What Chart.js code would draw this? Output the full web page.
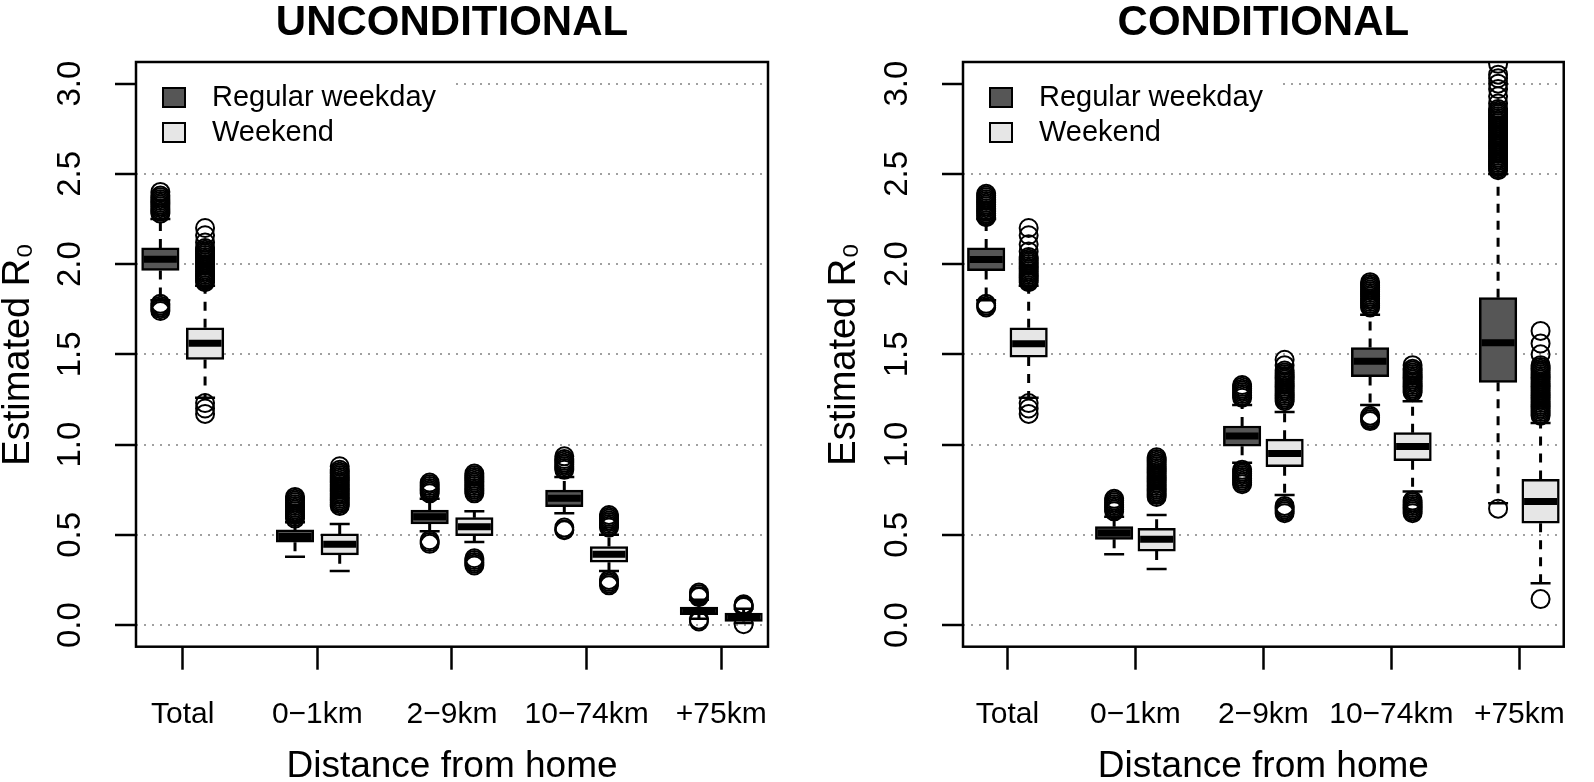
<!DOCTYPE html>
<html lang="en">
<head>
<meta charset="UTF-8">
<title>Estimated R0 by distance from home</title>
<script src="https://cdn.jsdelivr.net/npm/chart.js"></script>
<style>
  html, body { margin: 0; padding: 0; background: #fff; }
  body { width: 1594px; height: 782px; position: relative; overflow: hidden; }
  .panel { position: absolute; top: 0; width: 797px; height: 782px; }
  canvas { display: block; }
</style>
</head>
<body>
<div class="panel" style="left:0"><canvas id="uncChart" width="797" height="782"></canvas></div>
<div class="panel" style="left:797px"><canvas id="condChart" width="797" height="782"></canvas></div>

<script>
const categories = ['Total', '0\u22121km', '2\u22129km', '10\u221274km', '+75km'];
const groups = ['Regular weekday', 'Weekend'];
const yTicks = [0, 0.5, 1, 1.5, 2, 2.5, 3];
const yTickLabels = ['0.0', '0.5', '1.0', '1.5', '2.0', '2.5', '3.0'];

// UNCONDITIONAL - regular weekday
const uncWeekdayLo  = [1.80, 0.379, 0.52, 0.62, 0.035];
const uncWeekdayQ1  = [1.965, 0.459, 0.560, 0.656, 0.057];
const uncWeekdayMed = [2.027, 0.490, 0.600, 0.702, 0.079];
const uncWeekdayQ3  = [2.090, 0.527, 0.637, 0.748, 0.100];
const uncWeekdayHi  = [2.25, 0.57, 0.70, 0.82, 0.14];
const uncWeekdayOut = [
  [1.74, 1.75, 1.76, 1.77, 1.78, 2.28, 2.29, 2.30, 2.31, 2.32, 2.33, 2.34, 2.35, 2.36, 2.37, 2.38, 2.40],
  [0.59, 0.60, 0.61, 0.62, 0.63, 0.64, 0.65, 0.66, 0.67, 0.68, 0.69, 0.70, 0.71],
  [0.45, 0.46, 0.47, 0.73, 0.74, 0.75, 0.76, 0.77, 0.78, 0.79],
  [0.525, 0.53, 0.54, 0.86, 0.87, 0.88, 0.89, 0.90, 0.91, 0.92, 0.935],
  [0.02, 0.03, 0.155, 0.16, 0.17, 0.18]
];

// UNCONDITIONAL - weekend
const uncWeekendLo  = [1.26, 0.30, 0.46, 0.30, 0.012];
const uncWeekendQ1  = [1.472, 0.389, 0.495, 0.348, 0.020];
const uncWeekendMed = [1.562, 0.448, 0.545, 0.392, 0.042];
const uncWeekendQ3  = [1.647, 0.505, 0.595, 0.435, 0.066];
const uncWeekendHi  = [1.88, 0.56, 0.63, 0.50, 0.09];
const uncWeekendOut = [
  [1.17, 1.20, 1.23, 1.90, 1.91, 1.92, 1.93, 1.94, 1.95, 1.96, 1.97, 1.98, 1.99, 2.00, 2.01, 2.02, 2.03, 2.04, 2.05, 2.06, 2.07, 2.08, 2.09, 2.12, 2.16, 2.20],
  [0.66, 0.67, 0.68, 0.69, 0.70, 0.71, 0.72, 0.73, 0.74, 0.75, 0.76, 0.77, 0.78, 0.79, 0.80, 0.81, 0.82, 0.83, 0.84, 0.85, 0.86, 0.88],
  [0.33, 0.34, 0.35, 0.36, 0.37, 0.73, 0.74, 0.75, 0.76, 0.77, 0.78, 0.79, 0.80, 0.81, 0.82, 0.83, 0.84],
  [0.22, 0.23, 0.24, 0.25, 0.54, 0.55, 0.56, 0.57, 0.58, 0.59, 0.60, 0.61],
  [0.005, 0.10, 0.105, 0.11, 0.115]
];

// CONDITIONAL - regular weekday
const condWeekdayLo  = [1.80, 0.392, 0.90, 1.22, 0.675];
const condWeekdayQ1  = [1.964, 0.475, 0.991, 1.377, 1.345];
const condWeekdayMed = [2.025, 0.510, 1.048, 1.462, 1.564];
const condWeekdayQ3  = [2.090, 0.545, 1.103, 1.538, 1.814];
const condWeekdayHi  = [2.25, 0.60, 1.22, 1.72, 2.50];
const condWeekdayOut = [
  [1.76, 1.77, 1.78, 2.26, 2.27, 2.28, 2.29, 2.30, 2.31, 2.32, 2.33, 2.34, 2.35, 2.36, 2.37, 2.38, 2.39],
  [0.63, 0.64, 0.65, 0.66, 0.67, 0.68, 0.69, 0.70],
  [0.78, 0.79, 0.80, 0.81, 0.82, 0.83, 0.84, 0.85, 0.86, 1.26, 1.27, 1.28, 1.29, 1.30, 1.31, 1.32, 1.33],
  [1.13, 1.14, 1.15, 1.16, 1.76, 1.77, 1.78, 1.79, 1.80, 1.81, 1.82, 1.83, 1.84, 1.85, 1.86, 1.87, 1.88, 1.89, 1.90],
  [0.645, 2.52, 2.53, 2.54, 2.55, 2.56, 2.57, 2.58, 2.59, 2.60, 2.61, 2.62, 2.63, 2.64, 2.65, 2.66, 2.67, 2.68, 2.69, 2.70,
   2.71, 2.72, 2.73, 2.74, 2.75, 2.76, 2.77, 2.78, 2.79, 2.80, 2.81, 2.82, 2.83, 2.84, 2.85, 2.86,
   2.89, 2.93, 2.97, 3.00, 3.03, 3.05, 3.11]
];

// CONDITIONAL - weekend
const condWeekendLo  = [1.26, 0.311, 0.72, 0.74, 0.232];
const condWeekendQ1  = [1.485, 0.410, 0.877, 0.911, 0.564];
const condWeekendMed = [1.559, 0.475, 0.951, 0.990, 0.684];
const condWeekendQ3  = [1.647, 0.536, 1.030, 1.066, 0.807];
const condWeekendHi  = [1.88, 0.61, 1.18, 1.24, 1.12];
const condWeekendOut = [
  [1.17, 1.20, 1.23, 1.90, 1.91, 1.92, 1.93, 1.94, 1.95, 1.96, 1.97, 1.98, 1.99, 2.00, 2.01, 2.02, 2.03, 2.04, 2.07, 2.11, 2.16, 2.20],
  [0.71, 0.72, 0.73, 0.74, 0.75, 0.76, 0.77, 0.78, 0.79, 0.80, 0.81, 0.82, 0.83, 0.84, 0.85, 0.86, 0.87, 0.88, 0.89, 0.90, 0.91, 0.92, 0.93],
  [0.62, 0.63, 0.64, 0.65, 0.66, 1.24, 1.25, 1.26, 1.27, 1.28, 1.29, 1.30, 1.31, 1.32, 1.33, 1.34, 1.35, 1.36, 1.37, 1.38, 1.39, 1.40, 1.41, 1.44, 1.47],
  [0.62, 0.63, 0.64, 0.65, 0.66, 0.67, 0.68, 0.69, 1.29, 1.30, 1.31, 1.32, 1.33, 1.34, 1.35, 1.36, 1.37, 1.38, 1.39, 1.40, 1.41, 1.42, 1.44],
  [0.144, 1.16, 1.17, 1.18, 1.19, 1.20, 1.21, 1.22, 1.23, 1.24, 1.25, 1.26, 1.27, 1.28, 1.29, 1.30, 1.31, 1.32, 1.33, 1.34,
   1.35, 1.36, 1.37, 1.38, 1.39, 1.40, 1.41, 1.42, 1.43, 1.44, 1.50, 1.56, 1.63]
];

Chart.defaults.font.family = '"Liberation Sans", Arial, Helvetica, sans-serif';
Chart.defaults.color = '#000';

const WEEKDAY_FILL = '#565656';
const WEEKEND_FILL = '#e6e6e6';
const GROUP_OFFSET = 0.166; // box centre offset from the category tick, in category units

// one group of boxplots: whiskers, staples, boxes, medians, outliers
function groupDatasets(label, fill, side, lo, q1, med, q3, hi, out) {
  const xs = categories.map((c, i) => i + side * GROUP_OFFSET);
  const whiskers = [];
  const staples = [];
  const points = [];
  xs.forEach((x, i) => {
    whiskers.push({x, y: q3[i]}, {x, y: hi[i]}, {x, y: null},
                  {x, y: q1[i]}, {x, y: lo[i]}, {x, y: null});
    staples.push({x, y: hi[i]}, {x, y: lo[i]});
    out[i].forEach(v => points.push({x, y: v}));
  });
  return [
    { type: 'line', data: whiskers, borderColor: '#000', borderWidth: 3, borderDash: [9, 8],
      pointRadius: 0, spanGaps: false, fill: false, order: 5 },
    { type: 'scatter', data: staples, pointStyle: 'line', pointRadius: 10,
      pointBorderWidth: 2.5, borderColor: '#000', order: 4 },
    { type: 'bar', label, data: xs.map((x, i) => ({x, y: [q1[i], q3[i]]})),
      backgroundColor: fill, borderColor: '#000', borderWidth: 2.5, borderSkipped: false,
      barThickness: 37.5, grouped: false, order: 3 },
    { type: 'scatter', data: xs.map((x, i) => ({x, y: med[i]})), pointStyle: 'line',
      pointRadius: 16.5, pointBorderWidth: 7, borderColor: '#000', order: 2 },
    { type: 'scatter', data: points, pointStyle: 'circle', pointRadius: 9, pointBorderWidth: 2,
      borderColor: '#000', backgroundColor: 'rgba(0,0,0,0)', clip: 0, order: 1 }
  ];
}

// white key box in the top-left corner and the frame round the plot
const frameAndKey = {
  id: 'frameAndKey',
  beforeDatasetsDraw(chart) {
    const {ctx, chartArea: a} = chart;
    ctx.save();
    ctx.fillStyle = '#fff';
    ctx.fillRect(a.left, a.top, 318, 107);
    const keys = chart.data.datasets.filter(d => d.type === 'bar');
    ctx.font = '29px "Liberation Sans", Arial, sans-serif';
    ctx.textBaseline = 'middle';
    ctx.lineWidth = 2;
    keys.forEach((d, i) => {
      const y = a.top + 35.5 + i * 35;
      ctx.fillStyle = d.backgroundColor;
      ctx.fillRect(a.left + 27, y - 9.5, 22, 19);
      ctx.strokeStyle = '#000';
      ctx.strokeRect(a.left + 27, y - 9.5, 22, 19);
      ctx.fillStyle = '#000';
      ctx.fillText(d.label, a.left + 76, y);
    });
    ctx.restore();
  },
  afterDatasetsDraw(chart) {
    const {ctx, chartArea: a} = chart;
    ctx.save();
    ctx.strokeStyle = '#000';
    ctx.lineWidth = 2.5;
    ctx.strokeRect(a.left, a.top, a.right - a.left, a.bottom - a.top);
    ctx.restore();
  }
};

function makePanel(canvasId, title, padLeft, padRight, yWidth, datasets) {
  return new Chart(document.getElementById(canvasId), {
    type: 'bar',
    data: { datasets },
    options: {
      responsive: false,
      animation: false,
      events: [],
      layout: { padding: { left: padLeft, right: padRight, top: 0, bottom: 0 } },
      plugins: {
        legend: { display: false },
        tooltip: { enabled: false },
        title: {
          display: true, text: title, fullSize: false, color: '#000',
          font: { size: 42, weight: 'bold', lineHeight: 1 },
          padding: { top: 2, bottom: 18 }
        }
      },
      scales: {
        x: {
          type: 'linear', min: -0.347, max: 4.347, offset: false,
          afterBuildTicks: s => { s.ticks = categories.map((c, i) => ({ value: i })); },
          ticks: { callback: v => categories[v], font: { size: 30 }, padding: 27,
                   minRotation: 0, maxRotation: 0, autoSkip: false },
          grid: { drawOnChartArea: false, drawTicks: true, tickLength: 23, tickWidth: 2.5,
                  tickColor: '#000', offset: false },
          border: { display: false },
          title: { display: true, text: 'Distance from home', font: { size: 37, lineHeight: 1 },
                   padding: { top: 0, bottom: -3 } },
          afterFit: s => { s.height = 135.3; }
        },
        y: {
          type: 'linear', min: -0.12, max: 3.12,
          afterBuildTicks: s => { s.ticks = yTicks.map(v => ({ value: v })); },
          ticks: { callback: v => yTickLabels[yTicks.indexOf(v)], font: { size: 33 }, padding: 21,
                   minRotation: 90, maxRotation: 90, crossAlign: 'center', autoSkip: false },
          grid: { color: '#a0a0a0', lineWidth: 2, drawTicks: true, tickLength: 21,
                  tickWidth: 2.5, tickColor: '#000' },
          border: { display: false, dash: [2, 6] },
          title: { display: true, text: 'Estimated R\u2080', font: { size: 38, lineHeight: 1 },
                   padding: { top: 0, bottom: 0 } },
          afterFit: s => { s.width = yWidth; }
        }
      }
    },
    plugins: [frameAndKey]
  });
}

makePanel('uncChart', 'UNCONDITIONAL', 0, 29, 136, [
  ...groupDatasets(groups[0], WEEKDAY_FILL, -1, uncWeekdayLo, uncWeekdayQ1, uncWeekdayMed, uncWeekdayQ3, uncWeekdayHi, uncWeekdayOut),
  ...groupDatasets(groups[1], WEEKEND_FILL, 1, uncWeekendLo, uncWeekendQ1, uncWeekendMed, uncWeekendQ3, uncWeekendHi, uncWeekendOut)
]);

makePanel('condChart', 'CONDITIONAL', 28.5, 3, 137.5, [
  ...groupDatasets(groups[0], WEEKDAY_FILL, -1, condWeekdayLo, condWeekdayQ1, condWeekdayMed, condWeekdayQ3, condWeekdayHi, condWeekdayOut),
  ...groupDatasets(groups[1], WEEKEND_FILL, 1, condWeekendLo, condWeekendQ1, condWeekendMed, condWeekendQ3, condWeekendHi, condWeekendOut)
]);
</script>
</body>
</html>
